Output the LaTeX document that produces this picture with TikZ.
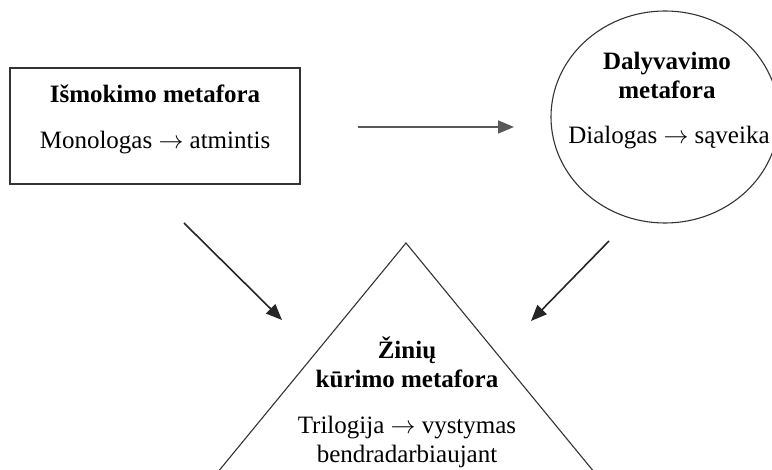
\documentclass[tikz,border=0pt]{standalone}
\usepackage{fontspec}
\setmainfont{Liberation Serif}
\usetikzlibrary{arrows.meta,shapes.geometric}
\newcommand{\goesto}{ $\rightarrow$ }
\tikzset{
  shapeline/.style={draw=black!80,line width=1.1pt},
  flow/.style={draw=black!85,line width=1.6pt,-{Triangle[length=16pt,width=13pt]}},
  label/.style={font=\fontsize{25}{29}\selectfont,align=center,inner sep=0pt},
}
\begin{document}
\begin{tikzpicture}[x=1pt,y=-1pt]
\useasboundingbox (0,0) rectangle (772,470);
\clip (0,0) rectangle (772,470);
\fill[white] (0,0) rectangle (772,470);

% learning metaphor: rectangle
\node[shapeline,rectangle,minimum width=290pt,minimum height=116pt] (learn) at (155,126) {};
\node[label] (learnT) at (155,94) {\bfseries Išmokimo metafora};
\node[label] (learnS) at (155,143) {Monologas\goesto atmintis};

% participation metaphor: ellipse
\node[shapeline,ellipse,minimum width=228pt,minimum height=212pt,inner sep=0pt] (part) at (665,117) {};
\node[label] (partT) at (667,75) {\bfseries Dalyvavimo\\\bfseries metafora};
\node[label] (partS) at (669,138) {Dialogas\goesto sąveika};

% knowledge creation metaphor: triangle
\coordinate (apex) at (406,243);
\coordinate (baseL) at (176,523);
\coordinate (baseR) at (636,523);
\draw[shapeline] (baseL) -- (apex) -- (baseR);
\node[label] (knowT) at (407,362) {\bfseries Žinių\\\bfseries kūrimo metafora};
\node[label] (knowS) at (407,442) {Trilogija\goesto vystymas\\bendradarbiaujant};

% connectors
\coordinate (h1) at (358,127);
\coordinate (h2) at (514,127);
\coordinate (l1) at (184,223);
\coordinate (l2) at (282,320);
\coordinate (r1) at (609,241);
\coordinate (r2) at (531,321);
\draw[flow,draw=black!65] (h1) -- (h2);
\draw[flow] (l1) -- (l2);
\draw[flow] (r1) -- (r2);
\end{tikzpicture}
\end{document}
